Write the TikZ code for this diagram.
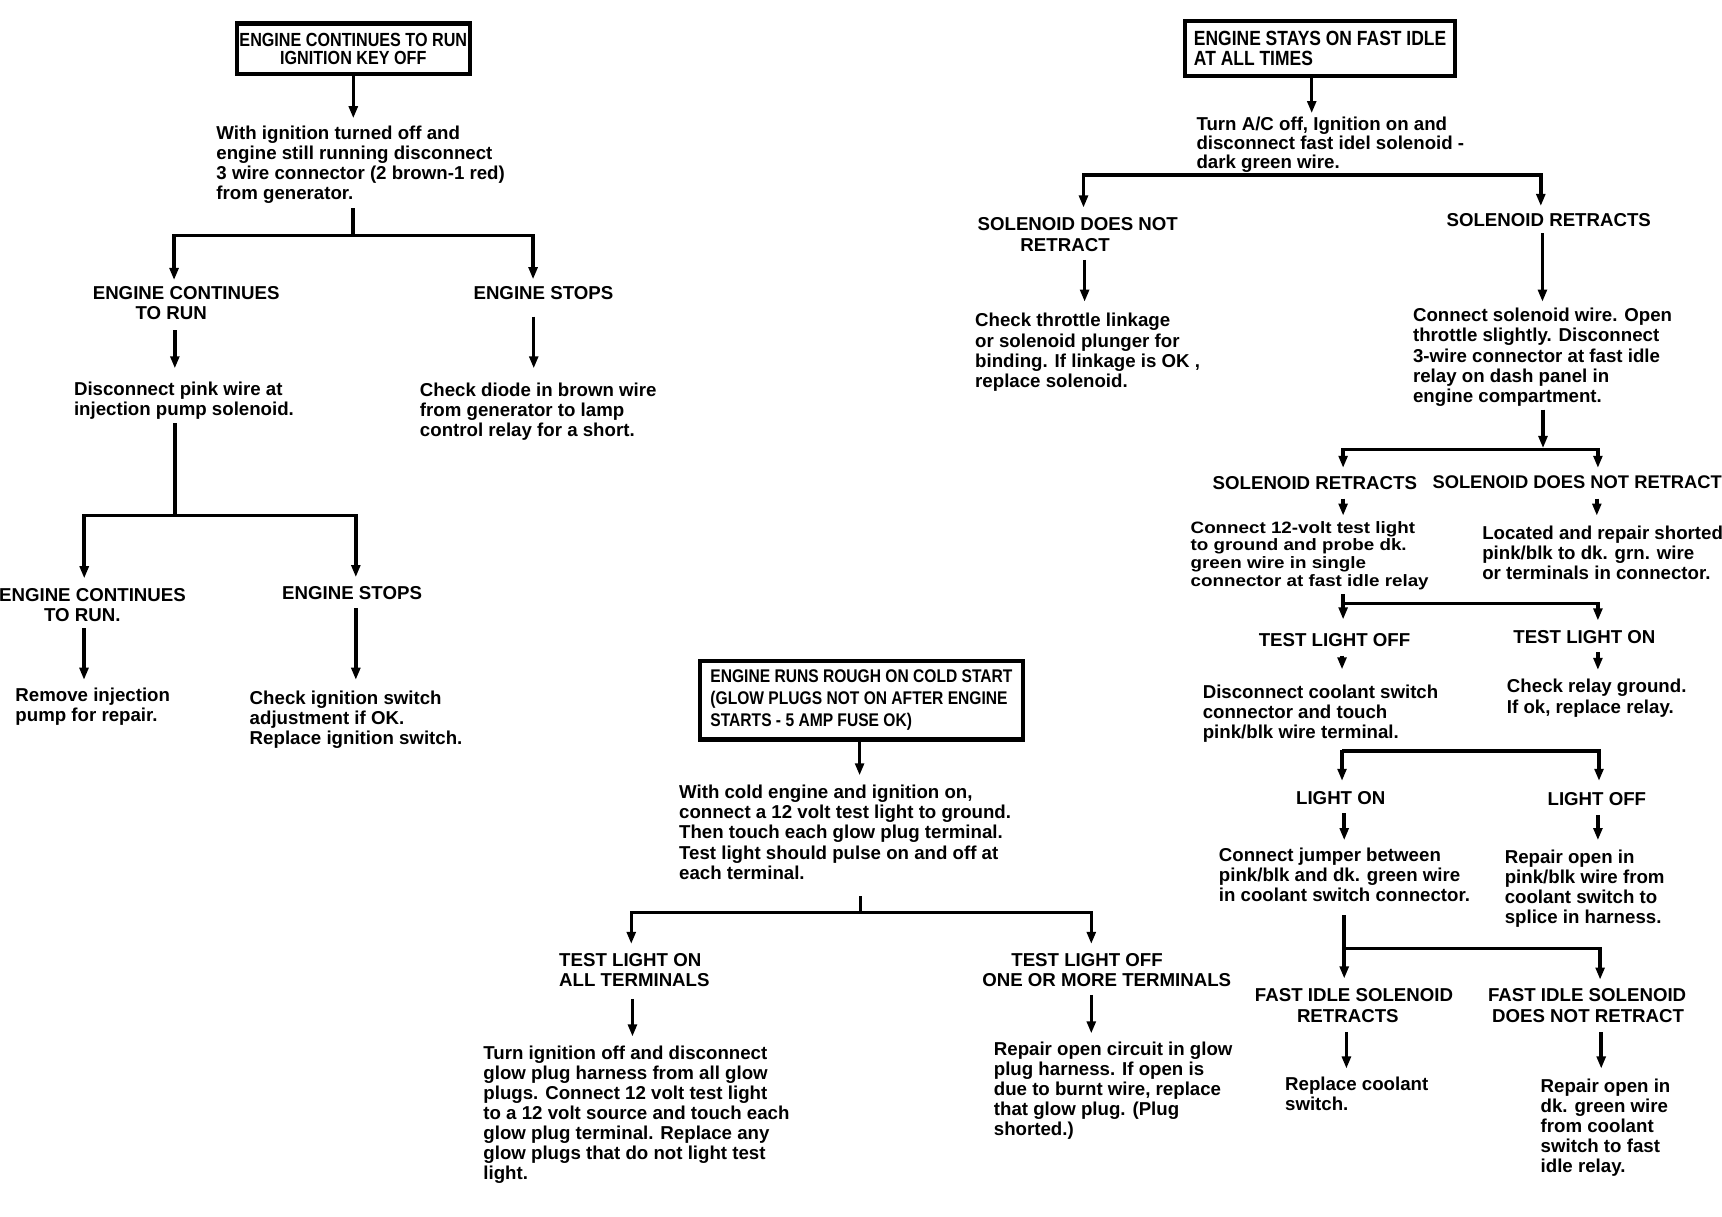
\documentclass[tikz,border=0pt]{standalone}
\usepackage{fontspec}
\setmainfont{Liberation Sans}
\newfontfamily\condf[FakeStretch=0.85]{Liberation Sans}
\newfontfamily\widef[FakeStretch=1.14]{Liberation Sans}
\usetikzlibrary{arrows.meta}
\newcommand\bodyf{\fontsize{17}{18.3}\selectfont\bfseries}
\newcommand\tightf{\fontsize{17}{17.2}\selectfont\bfseries}
\newcommand\edgef{\fontsize{16.7}{18.3}\selectfont\bfseries}
\newcommand\widetf{\widef\fontsize{15}{16}\selectfont\bfseries}
\newcommand\boxAf{\condf\fontsize{17.3}{16.7}\selectfont\bfseries}
\newcommand\boxBf{\condf\fontsize{18.7}{18.2}\selectfont\bfseries}
\newcommand\boxCf{\condf\fontsize{16.7}{20}\selectfont\bfseries}
\newcommand\fs{\rule{0pt}{12.9pt}}
\newcommand\fsw{\rule{0pt}{11.4pt}}
\tikzset{
  txt/.style={anchor=north west, inner sep=0pt, align=left, font=\bodyf},
  ln/.style={line width=3.2pt},
  arr/.style={line width=3.2pt, -{Triangle[width=8pt,length=11pt]}},
  titlebox/.style={draw, line width=4pt, inner sep=0pt}
}
\begin{document}
\begin{tikzpicture}[x=1pt,y=-1pt]
\fill[white] (0,0) rectangle (1568,1107.3);
\useasboundingbox (0,0) rectangle (1568,1107.3);

% ---------------- left tree ----------------
\node[titlebox, minimum width=212pt, minimum height=46pt, align=center, font=\boxAf] (b1) at (321.7,44.4)
  {ENGINE CONTINUES TO RUN\\IGNITION KEY OFF};
\node[txt] (t1) at (196.9,114) {\fs With ignition turned off and\\engine still running disconnect\\3 wire connector (2 brown-1 red)\\from generator.};
\node[txt] (h1) at (84.3,259.7) {\fs ENGINE CONTINUES\\\hspace*{39pt}TO RUN};
\node[txt] (h2) at (431,259.7) {\fs ENGINE STOPS};
\node[txt] (t2) at (67.2,346.8) {\fs Disconnect pink wire at\\injection pump solenoid.};
\node[txt] (t3) at (382.2,348.2) {\fs Check diode in brown wire\\from generator to lamp\\control relay for a short.};
\node[txt] (h3) at (-1,534.3) {\fs ENGINE CONTINUES\\\hspace*{41pt}TO RUN.};
\node[txt] (h4) at (256.8,532.8) {\fs ENGINE STOPS};
\node[txt] (t4) at (13.9,626) {\fs Remove injection\\pump for repair.};
\node[txt] (t5) at (227.2,628.4) {\fs Check ignition switch\\adjustment if OK.\\Replace ignition switch.};

\coordinate (a1e) at (321.7,107.7);
\draw[arr] (b1.south -| a1e) -- (a1e);
\coordinate (s1) at (321.3,189.7);
\coordinate (j1) at (321.3,214.6);
\coordinate (e1) at (158.5,255);
\coordinate (e2) at (485.4,254.3);
\draw[ln] (s1) -- (j1);
\draw[arr] (j1) -| (e1);
\draw[arr] (j1) -| (e2);
\coordinate (s2) at (159.2,300.5);
\coordinate (e3) at (159.2,335.4);
\draw[arr] (s2) -- (e3);
\coordinate (s3) at (486,288.3);
\coordinate (e4) at (486,335.4);
\draw[arr] (s3) -- (e4);
\coordinate (s4) at (159.2,385.4);
\coordinate (j2) at (159.2,469.5);
\coordinate (e5) at (76.7,526.6);
\coordinate (e6) at (324,525.5);
\draw[ln] (s4) -- (j2);
\draw[arr] (j2) -| (e5);
\draw[arr] (j2) -| (e6);
\coordinate (s5) at (76.5,572);
\coordinate (e7) at (76.5,619);
\draw[arr] (s5) -- (e7);
\coordinate (s6) at (324,553.9);
\coordinate (e8) at (324,619);
\draw[arr] (s6) -- (e8);

% ---------------- middle tree ----------------
\node[titlebox, minimum width=294pt, minimum height=71.5pt, align=left, font=\boxCf] (b3) at (784.4,637.75)
  {ENGINE RUNS ROUGH ON COLD START\\(GLOW PLUGS NOT ON AFTER ENGINE\\STARTS - 5 AMP FUSE OK)};
\node[txt] (t6) at (618.2,714.2) {\fs With cold engine and ignition on,\\connect a 12 volt test light to ground.\\Then touch each glow plug terminal.\\Test light should pulse on and off at\\each terminal.};
\node[txt] (h5) at (509,867.2) {\fs TEST LIGHT ON\\ALL TERMINALS};
\node[txt] (h6) at (894.2,867.2) {\fs\hspace*{26.5pt}TEST LIGHT OFF\\ONE OR MORE TERMINALS};
\node[txt] (t7) at (440,951.2) {\fs Turn ignition off and disconnect\\glow plug harness from all glow\\plugs.  Connect 12 volt test light\\to a 12 volt source and touch each\\glow plug terminal.  Replace any\\glow plugs that do not light test\\light.};
\node[txt] (t8) at (904.8,947.7) {\fs Repair open circuit in glow\\plug harness.  If open is\\due to burnt wire, replace\\that glow plug.  (Plug\\shorted.)};

\coordinate (a2e) at (782.7,706);
\draw[arr] (b3.south -| a2e) -- (a2e);
\coordinate (s7) at (783.4,816);
\coordinate (j3) at (783.4,831);
\coordinate (e9) at (574.8,859.5);
\coordinate (e10) at (993.7,859.5);
\draw[ln] (s7) -- (j3);
\draw[arr] (j3) -| (e9);
\draw[arr] (j3) -| (e10);
\coordinate (s8) at (575.9,909.5);
\coordinate (e11) at (575.9,943.8);
\draw[arr] (s8) -- (e11);
\coordinate (s9) at (993.7,906);
\coordinate (e12) at (993.7,941);
\draw[arr] (s9) -- (e12);

% ---------------- right tree ----------------
\node[titlebox, minimum width=246pt, minimum height=50pt, align=left, font=\boxBf] (b2) at (1202,44)
  {ENGINE STAYS ON FAST IDLE\\AT ALL TIMES};
\node[txt, font=\tightf] (t9) at (1089.3,106) {\fs Turn A/C off, Ignition on and\\disconnect fast idel solenoid -\\dark green wire.};
\node[txt] (h7) at (890,197.2) {\fs SOLENOID DOES NOT\\\hspace*{39pt}RETRACT};
\node[txt] (h8) at (1317,192.9) {\fs SOLENOID RETRACTS};
\node[txt] (t10) at (887.8,284.6) {\fs Check throttle linkage\\or solenoid plunger for\\binding.  If linkage is OK ,\\replace solenoid.};
\node[txt] (t11) at (1286.5,280) {\fs Connect solenoid wire.  Open\\throttle slightly.  Disconnect\\3-wire connector at fast idle\\relay on dash panel in\\engine compartment.};
\node[txt] (h9) at (1104,432.8) {\fs SOLENOID RETRACTS};
\node[txt, font=\edgef] (h10) at (1304.2,431.9) {\fs SOLENOID DOES NOT RETRACT};
\node[txt, font=\widetf] (t12) at (1084,474) {\fsw Connect 12-volt test light\\to ground and probe dk.\\green wire in single\\connector at fast idle relay};
\node[txt] (t13) at (1349.5,478.2) {\fs Located and repair shorted\\pink/blk to dk. grn. wire\\or terminals in connector.};
\node[txt] (h11) at (1146,575.2) {\fs TEST LIGHT OFF};
\node[txt] (h12) at (1377.8,573.2) {\fs TEST LIGHT ON};
\node[txt] (t14) at (1095,622.7) {\fs Disconnect coolant switch\\connector and touch\\pink/blk wire terminal.};
\node[txt] (t15) at (1372,617.9) {\fs Check relay ground.\\If ok, replace relay.};
\node[txt] (h13) at (1180,719.7) {\fs LIGHT ON};
\node[txt] (h14) at (1409,720.2) {\fs LIGHT OFF};
\node[txt] (t16) at (1109.7,771) {\fs Connect jumper between\\pink/blk and dk. green wire\\in coolant switch connector.};
\node[txt] (t17) at (1370,773.2) {\fs Repair open in\\pink/blk wire from\\coolant switch to\\splice in harness.};
\node[txt] (h15) at (1142.5,899.2) {\fs FAST IDLE SOLENOID\\\hspace*{38.3pt}RETRACTS};
\node[txt] (h16) at (1354.8,899.2) {\fs FAST IDLE SOLENOID\\\hspace*{3.7pt}DOES NOT RETRACT};
\node[txt] (t18) at (1170,980.2) {\fs Replace coolant\\switch.};
\node[txt] (t19) at (1402.7,981.6) {\fs Repair open in\\dk. green wire\\from coolant\\switch to fast\\idle relay.};

\coordinate (a3e) at (1194.4,103);
\draw[arr] (b2.south -| a3e) -- (a3e);
\coordinate (jA) at (1194.4,159.5);
\coordinate (eA1) at (986.6,189);
\coordinate (eA2) at (1403,187.6);
\draw[arr] (jA) -| (eA1);
\draw[arr] (jA) -| (eA2);
\coordinate (sB1) at (987.6,236.7);
\coordinate (eB1) at (987.6,274.7);
\draw[arr] (sB1) -- (eB1);
\coordinate (sB2) at (1404.5,212.4);
\coordinate (eB2) at (1404.5,274.7);
\draw[arr] (sB2) -- (eB2);
\coordinate (sC) at (1405,373);
\coordinate (aC) at (1405,408);
\coordinate (jC) at (1405,409.5);
\coordinate (eC1) at (1223,426);
\coordinate (eC2) at (1455,426);
\draw[arr] (sC) -- (aC);
\draw[arr] (jC) -| (eC1);
\draw[arr] (jC) -| (eC2);
\coordinate (sD1) at (1223,454);
\coordinate (eD1) at (1223,469.5);
\draw[arr] (sD1) -- (eD1);
\coordinate (sD2) at (1454,454);
\coordinate (eD2) at (1454,469.5);
\draw[arr] (sD2) -- (eD2);
\coordinate (sE) at (1223,541);
\coordinate (jE) at (1223,549.6);
\coordinate (eE1) at (1223,564);
\coordinate (eE2) at (1455,565);
\draw[arr] (sE) -- (eE1);
\draw[arr] (jE) -| (eE2);
\coordinate (sF1) at (1222,597);
\coordinate (eF1) at (1222,609.5);
\draw[arr] (sF1) -- (eF1);
\coordinate (sF2) at (1455,594);
\coordinate (eF2) at (1455,610);
\draw[arr] (sF2) -- (eF2);
\coordinate (sG) at (1222,682.5);
\coordinate (jG) at (1222,684);
\coordinate (eG1) at (1222,711);
\coordinate (eG2) at (1456,711);
\draw[arr] (sG) -- (eG1);
\draw[arr] (jG) -| (eG2);
\coordinate (sH1) at (1224,740.7);
\coordinate (eH1) at (1224,765);
\draw[arr] (sH1) -- (eH1);
\coordinate (sH2) at (1455,742);
\coordinate (eH2) at (1455,765);
\draw[arr] (sH2) -- (eH2);
\coordinate (sI) at (1224,833.4);
\coordinate (jI) at (1224,863.8);
\coordinate (eI1) at (1224,891);
\coordinate (eI2) at (1457,892);
\draw[arr] (sI) -- (eI1);
\draw[arr] (jI) -| (eI2);
\coordinate (sJ1) at (1226,939.8);
\coordinate (eJ1) at (1226,973);
\draw[arr] (sJ1) -- (eJ1);
\coordinate (sJ2) at (1458,939.8);
\coordinate (eJ2) at (1458,973);
\draw[arr] (sJ2) -- (eJ2);
\end{tikzpicture}
\end{document}
